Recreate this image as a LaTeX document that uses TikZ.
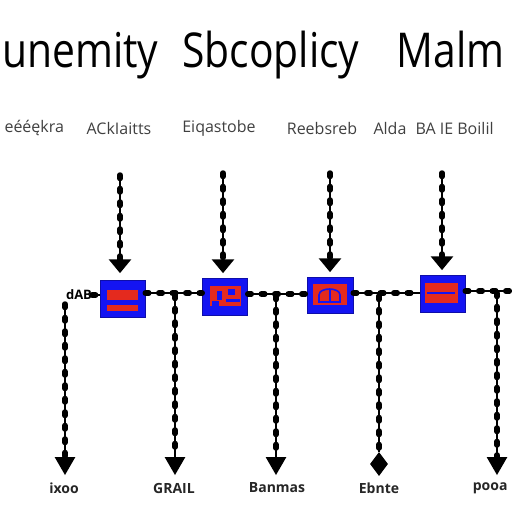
\documentclass[tikz,border=0pt]{standalone}
\usepackage{fontspec}
\setmainfont{Open Sans}
\usetikzlibrary{shapes.geometric}
\definecolor{bblue}{HTML}{1414F2}
\definecolor{rred}{HTML}{E42A1E}
\definecolor{lgray}{HTML}{404040}
\begin{document}
\begin{tikzpicture}[x=1pt,y=-1pt,
  bead/.style={line width=5.5pt, dash pattern=on 3.5pt off 10pt, line cap=round,
    preaction={draw, solid, line width=1.2pt, line cap=butt}},
  procbox/.style={draw=bblue!70!black, line width=0.6pt, fill=bblue,
    minimum width=45pt, minimum height=37pt, inner sep=0pt},
  downtri/.style={regular polygon, regular polygon sides=3, shape border rotate=180,
    fill=black, inner sep=0pt, minimum size=26pt, yscale=0.7},
  lowtri/.style={regular polygon, regular polygon sides=3, shape border rotate=180,
    fill=black, inner sep=0pt, minimum size=24pt},
  redpart/.style={fill=rred, draw=none},
  toplabel/.style={text=lgray, font=\fontsize{16}{18}\selectfont},
  botlabel/.style={text=black!85, font=\bfseries\fontsize{14}{16}\selectfont}]
\useasboundingbox[fill=white] (0,0) rectangle (512,512);

% title
\node[anchor=base west, inner sep=0pt, font=\fontsize{48}{52}\selectfont] (title) at (2,67)
  {\scalebox{0.85}[1]{unemity\hspace{28pt}Sbcoplicy\hspace{44pt}Malm}};

% top labels
\node[toplabel, anchor=west] (l1) at (1,128) {eééękra};
\node[toplabel] (l2) at (119,128) {ACkIaitts};
\node[toplabel] (l3) at (219,128) {Eiqastobe};
\node[toplabel] (l4) at (322,128) {Reebsreb};
\node[toplabel] (l5) at (390,128) {Alda};
\node[toplabel, anchor=west] (l6) at (412,128) {BA IE Boilil};

% boxes
\node[procbox] (b1) at (122.5,299) {};
\node[procbox] (b2) at (225,296.5) {};
\node[procbox, minimum width=46pt, minimum height=36pt] (b3) at (330,295) {};
\node[procbox] (b4) at (442.5,293.5) {};

% box contents
\fill[redpart] (107,290) rectangle (138,300);
\fill[redpart] (107,305) rectangle (138,311);
\fill[redpart] (210,286) rectangle (241,306);
\fill[bblue] (217,291) rectangle (222,300);
\fill[bblue] (228,289) rectangle (235,295);
\fill[bblue] (212,301) rectangle (219,306);
\fill[bblue] (226,299) rectangle (240,302);
\fill[redpart] (313,284) rectangle (347,305);
\draw[bblue, line width=1.6pt] (319,302) -- (319,295) .. controls (319,287) and (340,287) .. (340,295) -- (340,302) -- cycle;
\draw[bblue, line width=1.2pt] (330,289) -- (330,302);
\fill[redpart] (425,283) rectangle (458,303);
\draw[bblue, line width=1.2pt] (427,293) -- (455,293);

% upper arrows
\node[downtri] (t1) at (120,264) {};
\node[downtri] (t2) at (223,264) {};
\node[downtri] (t3) at (330,263) {};
\node[downtri] (t4) at (442,261) {};
\coordinate (u1) at (120,175);
\coordinate (u2) at (223,173);
\coordinate (u3) at (330,173);
\coordinate (u4) at (442,173);
\foreach \i in {1,2,3,4} \draw[bead] (u\i) -- (t\i.north);

% horizontal line
\node[font=\bfseries\fontsize{13}{14}\selectfont, inner sep=0pt] (hlab) at (79,295) {dAB};
\coordinate (hR) at (512,291);
\draw[bead] (hlab.east) -- (hlab.east -| b1.west);
\draw[bead] (b1.east |- 0,293) -- (b2.west |- 0,293);
\draw[bead] (b2.east |- 0,294) -- (b3.west |- 0,294);
\draw[bead] (b3.east |- 0,293) -- (b4.west |- 0,293);
\draw[bead] (b4.east |- 0,291) -- (hR);

% lower arrows
\node[lowtri] (d1) at (65,463) {};
\node[lowtri] (d2) at (175,463) {};
\node[lowtri] (d3) at (276,463) {};
\node[diamond, fill=black, inner sep=0pt, minimum width=18pt, minimum height=24pt] (d4) at (379,464) {};
\node[lowtri] (d5) at (497,463) {};
\coordinate (v1) at (65,304);
\coordinate (v2) at (175,295);
\coordinate (v3) at (276,296);
\coordinate (v4) at (379,296);
\coordinate (v5) at (497,293);
\foreach \i in {1,...,5} \draw[bead] (v\i) -- (d\i.north);

% bottom labels
\node[botlabel] (e1) at (64,488) {ixoo};
\node[botlabel] (e2) at (174,488) {GRAIL};
\node[botlabel] (e3) at (277,488) {Banmas};
\node[botlabel] (e4) at (379,488) {Ebnte};
\node[botlabel, anchor=east] (e5) at (511,488) {pooa};
\end{tikzpicture}
\end{document}
